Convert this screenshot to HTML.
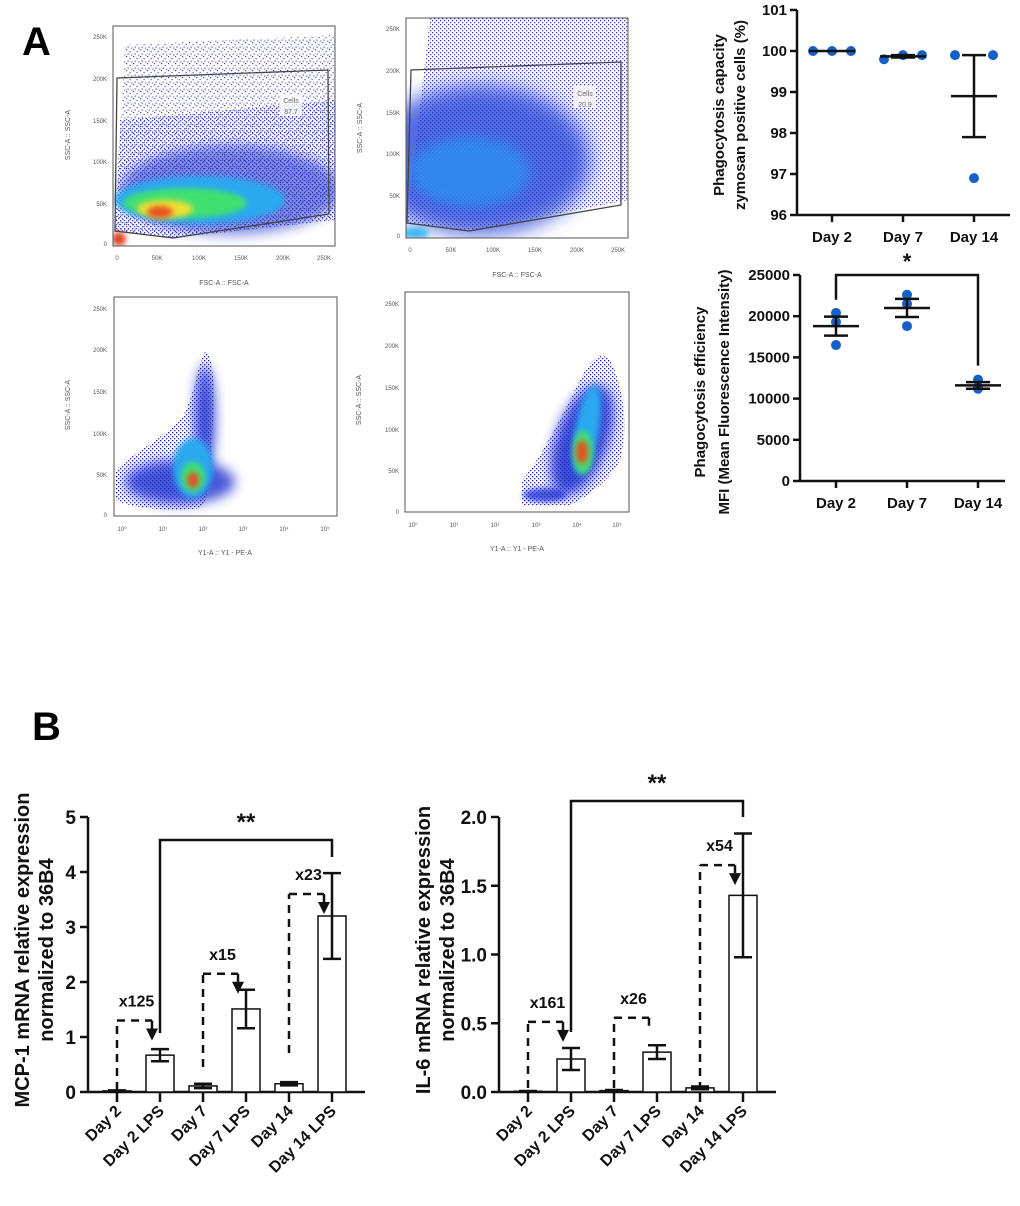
<!DOCTYPE html>
<html><head><meta charset="utf-8">
<style>
body{margin:0;background:#fff;}
svg{display:block;font-family:"Liberation Sans",Arial,sans-serif;}
.b{font-weight:bold;}
</style></head>
<body>
<svg id="fig" width="1020" height="1206" viewBox="0 0 1020 1206">
<defs>
  <filter id="bl" x="-50%" y="-50%" width="200%" height="200%"><feGaussianBlur stdDeviation="6"/></filter>
  <filter id="bl2" x="-50%" y="-50%" width="200%" height="200%"><feGaussianBlur stdDeviation="3"/></filter>
  <filter id="bl3" x="-50%" y="-50%" width="200%" height="200%"><feGaussianBlur stdDeviation="10"/></filter>
  <pattern id="speck" width="7" height="7" patternUnits="userSpaceOnUse">
    <rect x="0" y="0" width="1.2" height="1.2" fill="#1a1aa0"/>
    <rect x="3.5" y="2" width="1.2" height="1.2" fill="#2030c0"/>
    <rect x="1.5" y="4.5" width="1.2" height="1.2" fill="#1a1aa0"/>
    <rect x="5.2" y="5.5" width="1.2" height="1.2" fill="#2838c8"/>
  </pattern>
  <pattern id="speck2" width="4" height="4" patternUnits="userSpaceOnUse">
    <rect x="0" y="0" width="1.3" height="1.3" fill="#1a1aa8"/>
    <rect x="2" y="2" width="1.3" height="1.3" fill="#2535c8"/>
  </pattern>
  <clipPath id="c1"><rect x="113" y="26" width="222" height="220"/></clipPath>
  <clipPath id="c2"><rect x="406" y="18" width="222" height="220"/></clipPath>
  <clipPath id="c3"><rect x="114" y="297" width="223" height="219"/></clipPath>
  <clipPath id="c4"><rect x="405" y="292" width="224" height="220"/></clipPath>
</defs>
<text x="22" y="55" font-size="40" class="b">A</text>
<text x="32" y="740" font-size="40" class="b">B</text>

<!-- Flow plot 1 -->
<g>
  <g clip-path="url(#c1)">
    <polygon points="125,45 335,35 335,220 173,238 115,231" fill="url(#speck)" opacity="0.8"/>
    <polygon points="120,120 335,100 335,220 173,238 115,231" fill="url(#speck2)" opacity="0.8"/>
    <ellipse cx="230" cy="190" rx="110" ry="45" fill="#1f2fd0" opacity="0.55" filter="url(#bl)"/>
    <ellipse cx="200" cy="200" rx="85" ry="24" fill="#2aa8f0" filter="url(#bl2)"/>
    <ellipse cx="185" cy="203" rx="62" ry="15" fill="#40e070" filter="url(#bl2)"/>
    <ellipse cx="165" cy="209" rx="28" ry="9" fill="#f0e030" filter="url(#bl2)"/>
    <ellipse cx="160" cy="212" rx="13" ry="6" fill="#e85020" filter="url(#bl2)"/>
    <ellipse cx="119" cy="239" rx="7" ry="7" fill="#e04020" filter="url(#bl2)"/>
  </g>
  <rect x="113" y="26" width="222" height="220" fill="none" stroke="#555" stroke-width="1"/>
  <polygon points="117,78 328,70 329,214 173,238 115,231" fill="none" stroke="#444" stroke-width="1.3"/>
  <rect x="280" y="94" width="22" height="22" fill="#fff" opacity="0.8"/>
  <text x="291" y="103" font-size="7" fill="#666" text-anchor="middle">Cells</text>
  <text x="291" y="114" font-size="7" fill="#666" text-anchor="middle">87.7</text>
  <g font-size="6" fill="#555" text-anchor="end">
    <text x="107" y="39">250K</text><text x="107" y="81">200K</text><text x="107" y="123">150K</text><text x="107" y="164">100K</text><text x="107" y="206">50K</text><text x="107" y="246">0</text>
  </g>
  <g font-size="6" fill="#555" text-anchor="middle">
    <text x="117" y="260">0</text><text x="157" y="260">50K</text><text x="199" y="260">100K</text><text x="241" y="260">150K</text><text x="283" y="260">200K</text><text x="324" y="260">250K</text>
  </g>
  <text x="224" y="285" font-size="7" fill="#555" text-anchor="middle">FSC-A :: FSC-A</text>
  <text x="70" y="135" font-size="7" fill="#555" text-anchor="middle" transform="rotate(-90 70 135)">SSC-A :: SSC-A</text>
</g>

<!-- Flow plot 2 -->
<g>
  <g clip-path="url(#c2)">
    <polygon points="430,18 628,18 628,200 469,231 407,223" fill="url(#speck2)" opacity="0.85"/>
    <ellipse cx="480" cy="160" rx="110" ry="75" fill="#1f3ad8" opacity="0.75" filter="url(#bl3)"/>
    <ellipse cx="470" cy="172" rx="60" ry="35" fill="#2f8ef0" opacity="0.85" filter="url(#bl)"/>
    <ellipse cx="415" cy="233" rx="14" ry="6" fill="#40b8f0" filter="url(#bl2)"/>
  </g>
  <rect x="406" y="18" width="222" height="220" fill="none" stroke="#555" stroke-width="1"/>
  <polygon points="411,70 621,62 621,205 469,231 407,223" fill="none" stroke="#444" stroke-width="1.3"/>
  <rect x="574" y="86" width="22" height="22" fill="#fff" opacity="0.8"/>
  <text x="585" y="96" font-size="7" fill="#666" text-anchor="middle">Cells</text>
  <text x="585" y="107" font-size="7" fill="#666" text-anchor="middle">20.9</text>
  <g font-size="6" fill="#555" text-anchor="end">
    <text x="400" y="31">250K</text><text x="400" y="73">200K</text><text x="400" y="115">150K</text><text x="400" y="156">100K</text><text x="400" y="198">50K</text><text x="400" y="238">0</text>
  </g>
  <g font-size="6" fill="#555" text-anchor="middle">
    <text x="410" y="252">0</text><text x="451" y="252">50K</text><text x="493" y="252">100K</text><text x="535" y="252">150K</text><text x="577" y="252">200K</text><text x="618" y="252">250K</text>
  </g>
  <text x="517" y="277" font-size="7" fill="#555" text-anchor="middle">FSC-A :: FSC-A</text>
  <text x="362" y="128" font-size="7" fill="#555" text-anchor="middle" transform="rotate(-90 362 128)">SSC-A :: SSC-A</text>
</g>

<!-- Flow plot 3 -->
<g>
  <g clip-path="url(#c3)">
    <path d="M116,470 C130,455 160,440 180,420 C195,400 198,360 205,352 C215,355 215,400 212,440 C212,470 210,500 200,508 C170,512 130,508 116,500 Z" fill="url(#speck2)"/>
    <ellipse cx="180" cy="482" rx="55" ry="22" fill="#1f2fd0" opacity="0.8" filter="url(#bl)"/>
    <ellipse cx="205" cy="420" rx="10" ry="55" fill="#1f2fd0" opacity="0.85" filter="url(#bl)"/>
    <ellipse cx="193" cy="468" rx="20" ry="30" fill="#2aa8f0" filter="url(#bl2)"/>
    <ellipse cx="193" cy="477" rx="12" ry="15" fill="#40e070" filter="url(#bl2)"/>
    <ellipse cx="193" cy="480" rx="6" ry="8" fill="#e85020" filter="url(#bl2)"/>
  </g>
  <rect x="114" y="297" width="223" height="219" fill="none" stroke="#555" stroke-width="1"/>
  <g font-size="6" fill="#555" text-anchor="end">
    <text x="107" y="311">250K</text><text x="107" y="352">200K</text><text x="107" y="394">150K</text><text x="107" y="436">100K</text><text x="107" y="477">50K</text><text x="107" y="517">0</text>
  </g>
  <g font-size="6" fill="#555" text-anchor="middle">
    <text x="122" y="531">10⁰</text><text x="163" y="531">10¹</text><text x="203" y="531">10²</text><text x="243" y="531">10³</text><text x="284" y="531">10⁴</text><text x="325" y="531">10⁵</text>
  </g>
  <text x="225" y="555" font-size="7" fill="#555" text-anchor="middle">Y1-A :: Y1 - PE-A</text>
  <text x="70" y="405" font-size="7" fill="#555" text-anchor="middle" transform="rotate(-90 70 405)">SSC-A :: SSC-A</text>
</g>

<!-- Flow plot 4 -->
<g>
  <g clip-path="url(#c4)">
    <path d="M522,505 L522,480 C540,460 560,420 580,380 C590,360 600,350 610,360 C625,390 628,430 620,460 C610,480 590,495 570,505 Z" fill="url(#speck2)"/>
    <ellipse cx="582" cy="440" rx="26" ry="58" fill="#1f2fd0" opacity="0.85" filter="url(#bl)" transform="rotate(20 582 440)"/>
    <ellipse cx="545" cy="495" rx="22" ry="7" fill="#1f2fd0" opacity="0.8" filter="url(#bl2)"/>
    <ellipse cx="587" cy="430" rx="12" ry="45" fill="#2aa8f0" filter="url(#bl2)" transform="rotate(10 587 430)"/>
    <ellipse cx="583" cy="452" rx="10" ry="22" fill="#40e070" filter="url(#bl2)"/>
    <ellipse cx="582" cy="452" rx="6" ry="12" fill="#e85020" filter="url(#bl2)"/>
  </g>
  <rect x="405" y="292" width="224" height="220" fill="none" stroke="#555" stroke-width="1"/>
  <g font-size="6" fill="#555" text-anchor="end">
    <text x="399" y="306">250K</text><text x="399" y="348">200K</text><text x="399" y="390">150K</text><text x="399" y="432">100K</text><text x="399" y="473">50K</text><text x="399" y="514">0</text>
  </g>
  <g font-size="6" fill="#555" text-anchor="middle">
    <text x="413" y="527">10⁰</text><text x="454" y="527">10¹</text><text x="495" y="527">10²</text><text x="536" y="527">10³</text><text x="577" y="527">10⁴</text><text x="617" y="527">10⁵</text>
  </g>
  <text x="517" y="551" font-size="7" fill="#555" text-anchor="middle">Y1-A :: Y1 - PE-A</text>
  <text x="361" y="400" font-size="7" fill="#555" text-anchor="middle" transform="rotate(-90 361 400)">SSC-A :: SSC-A</text>
</g>

<g id="charts"></g>
</svg>

<script>
// ---------- data ----------
const dayCats = ["Day 2", "Day 7", "Day 14"];
const capPoints = [[100, 100, 100], [99.8, 99.9, 99.9], [99.9, 96.9, 99.9]];
const capMean = [100, 99.87, 98.9];
const capSem = [0, 0.03, 1.0];
const capTicks = [96, 97, 98, 99, 100, 101];

const mfiPoints = [[20400, 19300, 16500], [22600, 21500, 18800], [12300, 11200, 11400]];
const mfiMean = [18800, 21000, 11600];
const mfiSem = [1150, 1100, 400];
const mfiTicks = [0, 5000, 10000, 15000, 20000, 25000];

const barCats = ["Day 2", "Day 2 LPS", "Day 7", "Day 7 LPS", "Day 14", "Day 14 LPS"];
const mcpVals = [0.02, 0.67, 0.11, 1.51, 0.15, 3.2];
const mcpErr = [0.01, 0.11, 0.04, 0.35, 0.03, 0.78];
const mcpTicks = [0, 1, 2, 3, 4, 5];
const mcpFolds = ["x125", "x15", "x23"];
const mcpFoldTop = [1.3, 2.15, 3.6];

const il6Vals = [0.005, 0.24, 0.01, 0.29, 0.03, 1.43];
const il6Err = [0.002, 0.08, 0.005, 0.05, 0.01, 0.45];
const il6Ticks = [0, 0.5, 1.0, 1.5, 2.0];
const il6Folds = ["x161", "x26", "x54"];
const il6FoldTop = [0.51, 0.54, 1.65];

// ---------- helpers ----------
const NS = "http://www.w3.org/2000/svg";
const root = document.getElementById("charts");
function mk(tag, attrs, parent) {
  const e = document.createElementNS(NS, tag);
  for (const k in attrs) e.setAttribute(k, attrs[k]);
  (parent || root).appendChild(e);
  return e;
}
function line(p, x1, y1, x2, y2, w, dash) {
  const a = {x1, y1, x2, y2, stroke: "#111", "stroke-width": w || 2.5};
  if (dash) a["stroke-dasharray"] = dash;
  return mk("line", a, p);
}
function txt(p, x, y, s, size, anchor, extra) {
  const t = mk("text", Object.assign({x, y, "font-size": size, "font-weight": "bold", "text-anchor": anchor || "middle", fill: "#111"}, extra || {}), p);
  t.textContent = s;
  return t;
}

// ---------- dot plot ----------
function dotPlot(name, cfg) {
  const g = mk("g", {});
  
  
  const y = v => cfg.y0 - (v - cfg.vmin) / (cfg.vmax - cfg.vmin) * (cfg.y0 - cfg.y1);
  const x = i => cfg.cx0 + i * cfg.dx;
  line(g, cfg.ax, cfg.y1, cfg.ax, cfg.y0, 2.5);
  line(g, cfg.ax, cfg.y0, cfg.xEnd, cfg.y0, 2.5);
  cfg.ticks.forEach(t => {
    line(g, cfg.ax - 7, y(t), cfg.ax, y(t), 2.5);
    const tl = txt(g, cfg.ax - 10, y(t) + 5, String(t), 15, "end");
    
    
  });
  cfg.cats.forEach((c, i) => {
    line(g, x(i), cfg.y0, x(i), cfg.y0 + 7, 2.5);
    const cl = txt(g, x(i), cfg.y0 + 27, c, 15);
    
    
    const pts = cfg.points[i];
    pts.forEach((v, j) => {
      const off = (j - 1) * cfg.spread;
      const dot = mk("circle", {cx: x(i) + off, cy: y(v), r: 5, fill: "#1560c8"}, g);
      
      
    });
    const m = cfg.mean[i], s = cfg.sem[i];
    const ml = line(g, x(i) - 23, y(m), x(i) + 23, y(m), 2.5);
    
    
    if (s > 0) {
      line(g, x(i), y(m - s), x(i), y(m + s), 2.5);
      line(g, x(i) - 12, y(m - s), x(i) + 12, y(m - s), 2.5);
      line(g, x(i) - 12, y(m + s), x(i) + 12, y(m + s), 2.5);
    }
  });
  cfg.titles.forEach((t, k) => {
    const tx = cfg.titleX[k];
    const tt = txt(g, tx, cfg.titleY, t, 15, "middle", {transform: `rotate(-90 ${tx} ${cfg.titleY})`});
    
    
  });
  return {g, x, y};
}

dotPlot("phagocytosis-capacity-chart", {
  ax: 797, xEnd: 1010, y0: 215, y1: 10, vmin: 96, vmax: 101, cx0: 832, dx: 71, spread: 19,
  ticks: capTicks, cats: dayCats, points: capPoints, mean: capMean, sem: capSem,
  titles: ["Phagocytosis capacity", "zymosan positive cells (%)"], titleX: [724, 745], titleY: 115
});

const mfi = dotPlot("phagocytosis-efficiency-chart", {
  ax: 800, xEnd: 1005, y0: 481, y1: 275, vmin: 0, vmax: 25000, cx0: 836, dx: 71, spread: 0,
  ticks: mfiTicks, cats: dayCats, points: mfiPoints, mean: mfiMean, sem: mfiSem,
  titles: ["Phagocytosis efficiency", "MFI (Mean Fluorescence Intensity)"], titleX: [705, 729], titleY: 392
});
(function(){
  const g = mk("g", {});
  
  
  const xl = mfi.x(0), xr = mfi.x(2);
  mk("polyline", {points: `${xl},${mfi.y(22000)} ${xl},${mfi.y(25000)} ${xr},${mfi.y(25000)} ${xr},${mfi.y(14000)}`, fill: "none", stroke: "#111", "stroke-width": 2.5}, g);
  txt(g, (xl + xr) / 2, mfi.y(25000) - 6, "*", 22);
})();

// ---------- bar chart ----------
function barChart(name, cfg) {
  const g = mk("g", {});
  
  
  const y = v => cfg.y0 - v / cfg.vmax * (cfg.y0 - cfg.y1);
  const x = i => cfg.ax + 29 + i * 43;
  line(g, cfg.ax, cfg.y1, cfg.ax, cfg.y0, 2.5);
  line(g, cfg.ax, cfg.y0, cfg.ax + 277, cfg.y0, 2.5);
  cfg.ticks.forEach(t => {
    line(g, cfg.ax - 8, y(t), cfg.ax, y(t), 2.5);
    const tl = txt(g, cfg.ax - 12, y(t) + 7, cfg.fmt(t), 19, "end");
    
    
  });
  cfg.cats.forEach((c, i) => {
    const v = cfg.vals[i], e = cfg.err[i];
    const bar = mk("rect", {x: x(i) - 14, y: y(v), width: 28, height: cfg.y0 - y(v), fill: "#fff", stroke: "#111", "stroke-width": 1.5}, g);
    
    
    line(g, x(i), y(v - e), x(i), y(v + e), 2.5);
    line(g, x(i) - 9, y(v - e), x(i) + 9, y(v - e), 2.5);
    line(g, x(i) - 9, y(v + e), x(i) + 9, y(v + e), 2.5);
    line(g, x(i), cfg.y0, x(i), cfg.y0 + 10, 2.5);
    const lx = x(i) + 5, ly = cfg.y0 + 20;
    const cl = txt(g, lx, ly, c, 16, "end", {transform: `rotate(-45 ${lx} ${ly})`});
    
    
  });
  for (let k = 0; k < 3; k++) {
    const i0 = 2 * k, i1 = 2 * k + 1;
    const ft = y(cfg.foldTop[k]);
    const xs = x(i0), xe = x(i1) - 8;
    const fg = mk("g", {}, g);
    
    
    line(fg, xs, cfg.foldStart[k], xs, ft, 2.5, "8,6");
    line(fg, xs, ft, xe, ft, 2.5, "8,6");
    line(fg, xe, ft, xe, ft + 8, 2.5);
    if (cfg.arrow[k]) {
      mk("polygon", {points: `${xe - 6},${ft + 8} ${xe + 6},${ft + 8} ${xe},${ft + 20}`, fill: "#111"}, fg);
    }
    txt(fg, (xs + xe) / 2 + 2, ft - 14, cfg.folds[k], 16);
  }
  const bg = mk("g", {}, g);
  
  
  mk("polyline", {points: `${x(1)},${cfg.brL} ${x(1)},${cfg.brTop} ${x(5)},${cfg.brTop} ${x(5)},${cfg.brR}`, fill: "none", stroke: "#111", "stroke-width": 2.5}, bg);
  txt(bg, (x(1) + x(5)) / 2 + 0, cfg.brTop - 10, "**", 24);
  cfg.titles.forEach((t, k) => {
    const tx = cfg.titleX[k];
    const tt = txt(g, tx, cfg.titleY, t, 20, "middle", {transform: `rotate(-90 ${tx} ${cfg.titleY})`});
    
    
  });
}

barChart("mcp1-bar-chart", {
  ax: 88, y0: 1092, y1: 817, vmax: 5, ticks: mcpTicks, fmt: t => String(t),
  cats: barCats, vals: mcpVals, err: mcpErr, folds: mcpFolds, foldTop: mcpFoldTop,
  foldStart: [1090, 1067, 1053], arrow: [true, true, true],
  brTop: 840, brL: 1033, brR: 857,
  titles: ["MCP-1 mRNA relative expression", "normalized to 36B4"], titleX: [29, 53], titleY: 950
});
barChart("il6-bar-chart", {
  ax: 499, y0: 1092, y1: 817, vmax: 2, ticks: il6Ticks, fmt: t => t.toFixed(1),
  cats: barCats, vals: il6Vals, err: il6Err, folds: il6Folds, foldTop: il6FoldTop,
  foldStart: [1088, 1088, 1090], arrow: [true, false, true],
  brTop: 801, brL: 1032, brR: 817,
  titles: ["IL-6 mRNA relative expression", "normalized to 36B4"], titleX: [430, 454], titleY: 950
});
</script>
</body></html>
